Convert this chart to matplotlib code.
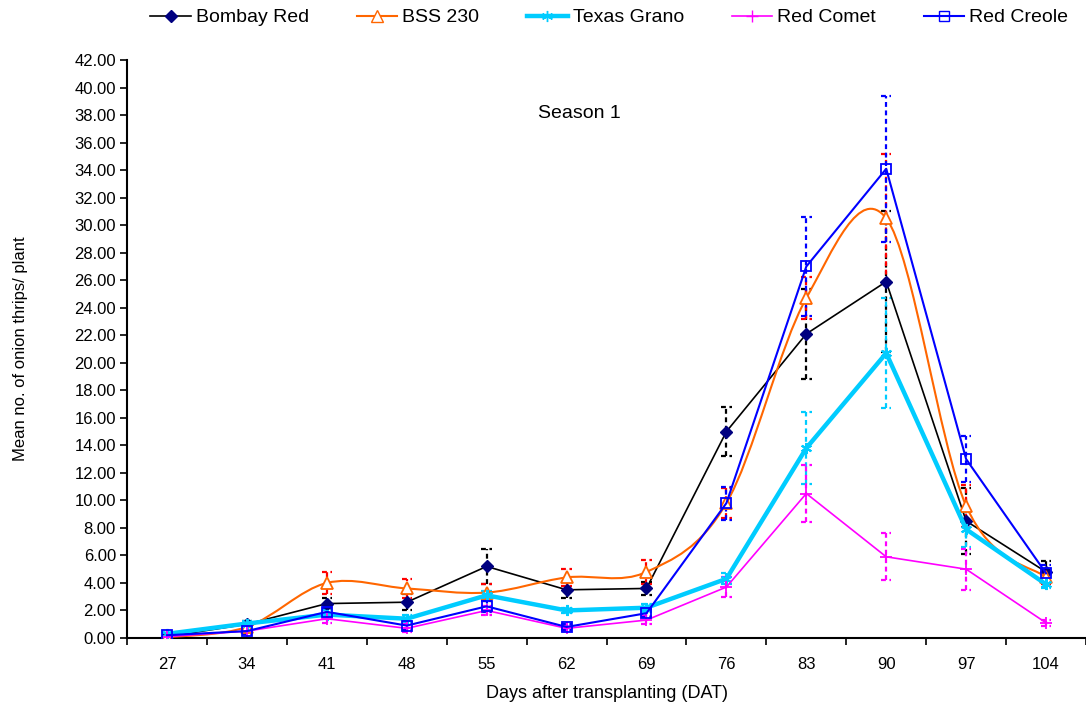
import matplotlib
matplotlib.use('Agg')
import matplotlib.pyplot as plt
from matplotlib.path import Path
from matplotlib.patches import PathPatch
from matplotlib.lines import Line2D
import numpy as np

plt.rcParams['font.family'] = ['Liberation Sans', 'DejaVu Sans']

days = ['27', '34', '41', '48', '55', '62', '69', '76', '83', '90', '97', '104']

bombay = [0.1, 1.0, 2.5, 2.6, 5.2, 3.5, 3.6, 15.0, 22.1, 25.9, 8.5, 4.8]
bombay_err = [0.05, 0.2, 0.4, 0.6, 1.3, 0.6, 0.5, 1.8, 3.3, 5.1, 2.4, 0.8]

bss = [0.05, 0.8, 4.0, 3.6, 3.3, 4.4, 4.8, 9.8, 24.7, 30.5, 9.6, 4.4]
bss_err = [0.05, 0.2, 0.8, 0.7, 0.6, 0.6, 0.9, 1.1, 1.5, 4.7, 1.5, 0.5]

texas = [0.3, 1.05, 1.7, 1.4, 3.1, 2.0, 2.2, 4.3, 13.8, 20.7, 7.9, 3.9]
texas_err = [0.05, 0.2, 0.3, 0.3, 0.3, 0.2, 0.3, 0.4, 2.6, 4.0, 1.3, 0.3]

comet = [0.1, 0.5, 1.4, 0.7, 2.0, 0.7, 1.3, 3.7, 10.5, 5.9, 5.0, 1.1]
comet_err = [0.05, 0.2, 0.3, 0.3, 0.3, 0.2, 0.3, 0.7, 2.1, 1.7, 1.5, 0.2]

creole = [0.2, 0.5, 1.9, 0.9, 2.3, 0.8, 1.8, 9.8, 27.0, 34.1, 13.0, 4.7]
creole_err = [0.05, 0.2, 0.3, 0.3, 0.4, 0.2, 0.3, 1.2, 3.6, 5.3, 1.7, 0.6]

x = np.arange(len(days))

fig = plt.figure(figsize=(10.86, 7.03), dpi=100)
ax = fig.add_axes([0.117, 0.0925, 0.883, 0.822])

dash = (0, (2.2, 1.6))


def err_bars(y, e, color):
    y = np.array(y)
    e = np.array(e)
    ax.vlines(x, y - e, y + e, colors=color, linestyles=dash, lw=1.6, zorder=2)
    for yy in (y - e, y + e):
        ax.hlines(yy, x - 0.065, x + 0.065, colors=color, linestyles=dash, lw=1.6, zorder=2)


def smooth_path(xs, ys):
    # excel style smoothed line: cubic bezier through the points
    pts = np.column_stack([xs, ys]).astype(float)
    n = len(pts)
    verts = [pts[0]]
    codes = [Path.MOVETO]
    for i in range(n - 1):
        p0 = pts[max(i - 1, 0)]
        p1 = pts[i]
        p2 = pts[i + 1]
        p3 = pts[min(i + 2, n - 1)]
        c1 = p1 + (p2 - p0) / 6.0
        c2 = p2 - (p3 - p1) / 6.0
        verts += [c1, c2, p2]
        codes += [Path.CURVE4] * 3
    return Path(verts, codes)


asterisk = (6, 2, 0)

# Bombay Red
err_bars(bombay, bombay_err, 'black')
ax.plot(x, bombay, color='black', lw=1.2, marker='D', ms=6.5,
        mfc='#000080', mec='#000080', zorder=3)

# BSS 230
err_bars(bss, bss_err, '#FF0000')
ax.add_patch(PathPatch(smooth_path(x, bss), fill=False, ec='#FF6600', lw=1.5, zorder=3))
ax.plot(x, bss, ls='none', marker='^', ms=9, mfc='white', mec='#FF6600', mew=1.3, zorder=3)

# Texas Grano
err_bars(texas, texas_err, '#00CCFF')
ax.plot(x, texas, color='#00CCFF', lw=3.2, marker=asterisk, ms=8, mec='#00CCFF', mew=1.5, zorder=3)

# Red Comet
err_bars(comet, comet_err, '#FF00FF')
ax.plot(x, comet, color='#FF00FF', lw=1.2, marker='+', ms=8, mew=1.3, zorder=3)

# Red Creole
err_bars(creole, creole_err, '#0000FF')
ax.plot(x, creole, color='#0000FF', lw=1.5, marker='s', ms=7, mfc='none', mec='#0000FF', mew=1.3, zorder=3)

ax.set_xlim(-0.5, 11.5)
ax.set_ylim(0, 42)
ax.set_yticks(np.arange(0, 43, 2))
ax.set_yticklabels(['%.2f' % v for v in np.arange(0, 43, 2)])
ax.set_xticks(x)
ax.set_xticklabels(days)
ax.set_xticks(np.arange(-0.5, 12, 1), minor=True)
ax.tick_params(axis='x', which='major', length=0, pad=14, labelsize=12)
ax.tick_params(axis='x', which='minor', length=5, width=1.2, direction='out')
ax.tick_params(axis='y', length=5, width=1.2, direction='out', labelsize=12, pad=3)

for s in ['top', 'right']:
    ax.spines[s].set_visible(False)
ax.spines['left'].set_linewidth(1.5)
ax.spines['bottom'].set_linewidth(1.5)

ax.set_xlabel('Days after transplanting (DAT)', fontsize=13, labelpad=9)
ax.set_ylabel('Mean no. of onion thrips/ plant', fontsize=12, labelpad=33)
ax.text(0.472, 0.908, 'Season 1', transform=ax.transAxes, fontsize=14, ha='center', va='center')

handles = [
    Line2D([], [], color='black', lw=1.2, marker='D', ms=6.5, mfc='#000080', mec='#000080'),
    Line2D([], [], color='#FF6600', lw=1.5, marker='^', ms=9, mfc='white', mec='#FF6600'),
    Line2D([], [], color='#00CCFF', lw=3.2, marker=asterisk, ms=8, mec='#00CCFF'),
    Line2D([], [], color='#FF00FF', lw=1.2, marker='+', ms=8),
    Line2D([], [], color='#0000FF', lw=1.5, marker='s', ms=7, mfc='none', mec='#0000FF'),
]
labels = ['Bombay Red', 'BSS 230', 'Texas Grano', 'Red Comet', 'Red Creole']
fig.legend(handles, labels, loc='center', bbox_to_anchor=(0.561, 0.975), ncol=5,
           frameon=False, fontsize=14, handlelength=2.1, handletextpad=0.25,
           columnspacing=2.45)

fig.savefig('out.png', dpi=100)
